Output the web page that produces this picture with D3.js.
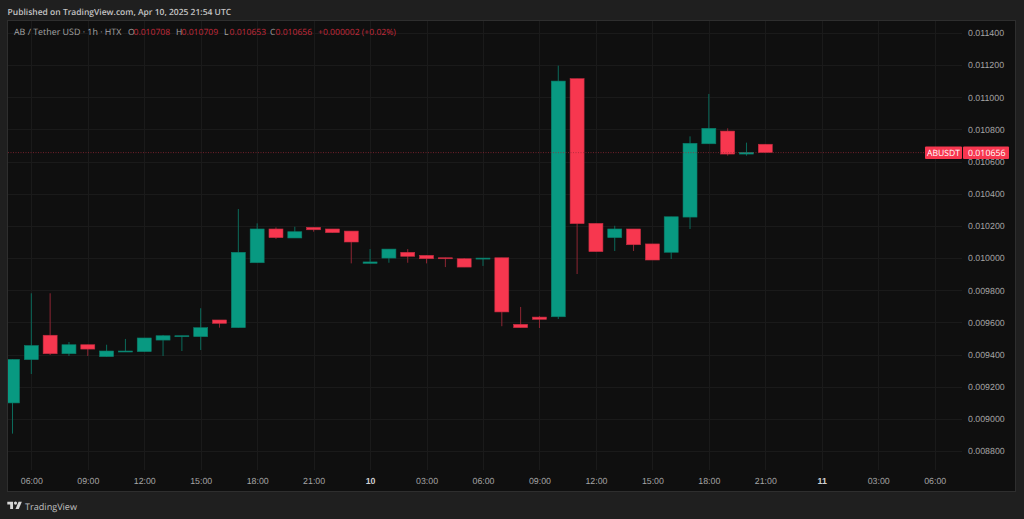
<!DOCTYPE html>
<html><head><meta charset="utf-8">
<script src="https://cdnjs.cloudflare.com/ajax/libs/d3/7.8.5/d3.min.js"></script>
<style>html,body{margin:0;padding:0;background:#1f1f1f;overflow:hidden}svg{display:block;font-family:"Open Sans","Noto Sans",sans-serif;text-rendering:geometricPrecision}</style>
</head><body><svg id="c" width="1024" height="519"></svg>
<script>
// Values are in millionths of a USDT; hourly candles from 2025-04-09 05:00 UTC
const opens  = [9099,9368,9520,9405,9461,9387,9416,9418,9490,9511,9511,9615,9567,9971,10181,10125,10191,10181,10168,9967,10000,10036,10017,10002,9996,9994,10002,9588,9633,9635,11116,10216,10127,10181,10088,10036,10255,10711,10790,10647,10708];
const highs  = [9370,9781,9781,9478,9461,9461,9497,9503,9522,9517,9688,9615,10305,10216,10191,10195,10191,10181,10168,10056,10056,10056,10017,10002,10000,10000,10002,9696,9640,11197,11116,10216,10201,10181,10088,10257,10757,11021,10807,10718,10709];
const lows   = [8908,9279,9397,9391,9391,9387,9416,9418,9391,9422,9428,9567,9567,9971,10119,10125,10164,10158,9967,9967,9971,9971,9967,9944,9944,9951,9576,9567,9565,9621,9901,10040,10044,10044,9988,9994,10181,10711,10637,10637,10653];
const closes = [9370,9456,9405,9461,9434,9422,9422,9503,9517,9517,9567,9594,10036,10181,10127,10164,10176,10158,10100,9976,10056,10011,9996,9996,9944,10000,9665,9567,9619,11101,10214,10040,10181,10083,9988,10257,10714,10807,10647,10658,10656];
const priceTicks = [8800,9000,9200,9400,9600,9800,10000,10200,10400,10600,10800,11000,11200,11400];
const timeTicks = ["2025-04-09T06:00Z","2025-04-09T09:00Z","2025-04-09T12:00Z","2025-04-09T15:00Z","2025-04-09T18:00Z","2025-04-09T21:00Z","2025-04-10T00:00Z","2025-04-10T03:00Z","2025-04-10T06:00Z","2025-04-10T09:00Z","2025-04-10T12:00Z","2025-04-10T15:00Z","2025-04-10T18:00Z","2025-04-10T21:00Z","2025-04-11T00:00Z","2025-04-11T03:00Z","2025-04-11T06:00Z"].map(d=>new Date(d));
const firstHour = Date.UTC(2025,3,9,5), hour = 3600000;
const lastPrice = 10656;
const GREEN="#089981", RED="#f7374f";

const svg=d3.select("#c");
const x=d3.scaleUtc().domain([new Date(firstHour),new Date(firstHour+40*hour)]).range([12.5,765.3]);
const y=d3.scaleLinear().domain([8800,11400]).range([451,33]);
const fmtP=v=>(v/1e6).toFixed(6);

// pane
svg.append("rect").attr("x",7.5).attr("y",20.5).attr("width",1008).attr("height",471).attr("fill","#0f0f0f").attr("stroke","#2e2e2e");
svg.append("defs").append("clipPath").attr("id","pane").append("rect").attr("x",8).attr("y",21).attr("width",954).attr("height",449);

// grid + price axis
const yAxis=d3.axisRight(y).tickValues(priceTicks).tickFormat(fmtP).tickSize(0).tickPadding(0);
const yG=svg.append("g").attr("transform","translate(968,0)").call(yAxis);
yG.select(".domain").remove();
yG.selectAll("text").attr("fill","#a6a6a6").attr("font-size",8.8).attr("font-family","inherit");
svg.append("g").selectAll("line").data(priceTicks).join("line")
  .attr("x1",8).attr("x2",962).attr("y1",d=>Math.round(y(d))+.5).attr("y2",d=>Math.round(y(d))+.5).attr("stroke","#1a1a1a");

// time axis
const isDay=d=>d.getUTCHours()===0;
const xAxis=d3.axisBottom(x).tickValues(timeTicks).tickSize(0).tickPadding(0)
  .tickFormat(d=>isDay(d)?String(d.getUTCDate()):d3.utcFormat("%H:%M")(d));
const xG=svg.append("g").attr("transform","translate(0,478)").call(xAxis);
xG.select(".domain").remove();
xG.selectAll("text").attr("fill",d=>isDay(d)?"#d0d0d0":"#a6a6a6").attr("font-size",8.8).attr("font-weight",d=>isDay(d)?700:400).attr("font-family","inherit");
svg.append("g").selectAll("line").data(timeTicks).join("line")
  .attr("x1",d=>Math.round(x(d))+.5).attr("x2",d=>Math.round(x(d))+.5).attr("y1",21).attr("y2",470).attr("stroke","#1a1a1a");

// candles
const rows=opens.map((o,i)=>({t:new Date(firstHour+i*hour),o,h:highs[i],l:lows[i],c:closes[i]}));
const g=svg.append("g").attr("clip-path","url(#pane)");
const col=d=>d.c>=d.o?GREEN:RED;
g.selectAll(".w").data(rows).join("line").attr("class","w")
  .attr("x1",d=>x(d.t)).attr("x2",d=>x(d.t)).attr("y1",d=>y(d.h)).attr("y2",d=>y(d.l))
  .attr("stroke",d=>d.c>=d.o?"#0b6a5b":"#8e2633").attr("stroke-width",1);
g.selectAll(".b").data(rows).join("rect").attr("class","b")
  .attr("x",d=>x(d.t)-7).attr("width",14)
  .attr("y",d=>y(Math.max(d.o,d.c))).attr("height",d=>Math.max(1,Math.abs(y(d.o)-y(d.c))))
  .attr("fill",col).attr("stroke",d=>d.c>=d.o?"#0b7a68":"#c22c40").attr("stroke-width",.6);

// last price line + labels
svg.append("line").attr("x1",8).attr("x2",925).attr("y1",y(lastPrice)).attr("y2",y(lastPrice))
  .attr("stroke","#a02a38").attr("stroke-width",.7).attr("stroke-dasharray","1 1.5");
svg.append("rect").attr("x",925).attr("y",146.5).attr("width",37).attr("height",12.5).attr("rx",1).attr("fill",RED);
svg.append("rect").attr("x",963).attr("y",146.5).attr("width",46).attr("height",12.5).attr("rx",1).attr("fill",RED);
svg.append("text").attr("x",943.5).attr("y",156).attr("text-anchor","middle").attr("fill","#fff").attr("font-size",8.6).text("ABUSDT");
svg.append("text").attr("x",968).attr("y",156).attr("fill","#fff").attr("font-size",8.8).text(fmtP(lastPrice));

// header
const t=(s,px,py,fill,size,w)=>svg.append("text").attr("x",px).attr("y",py).attr("fill",fill).attr("font-size",size).attr("font-weight",w||400).text(s);
t("Published on TradingView.com, Apr 10, 2025 21:54 UTC",7.5,14.5,"#c4c4c4",8.5,600);
t("AB / Tether USD · 1h · HTX",14,35,"#a6a6a6",8.9);
const R="#c2293a",G="#a6a6a6";
[["O",128,"0.010708"],["H",176,"0.010709"],["L",224,"0.010653"],["C",270,"0.010656"]].forEach(([k,px,v])=>{
  t(k,px,35,G,8.6); t(v,px+5.5,35,R,8.6);
});
t("+0.000002 (+0.02%)",318,35,R,8.6);

// logo
const logo=svg.append("g").attr("transform","translate(7.3,500) scale(0.41)").attr("fill","#d6d6d6");
logo.append("path").attr("d","M14 22H7V11H0V4h14v18zM28 22h-8l7.5-18h8L28 22z");
logo.append("circle").attr("cx",20).attr("cy",7.5).attr("r",3.8);
t("TradingView",25,509.5,"#c0c0c0",9.1,500);
</script></body></html>
